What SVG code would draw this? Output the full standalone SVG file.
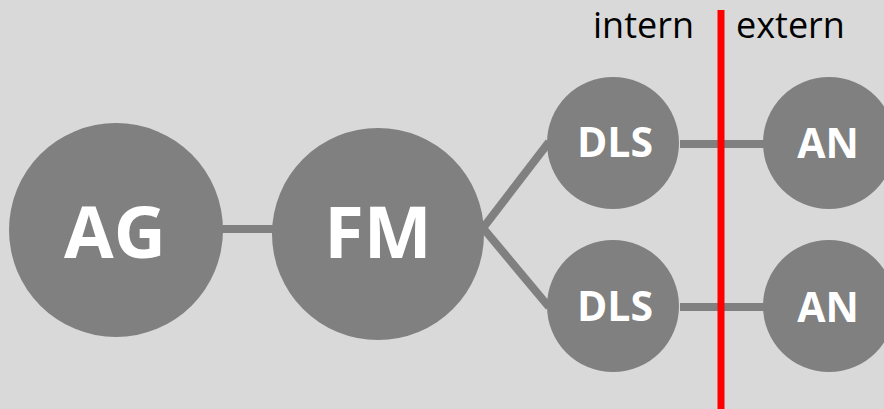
<svg xmlns="http://www.w3.org/2000/svg" width="884" height="409" viewBox="0 0 884 409">
  <style>
    .node { fill: #808080; }
    .big { font-family: "Open Sans", "Liberation Sans", sans-serif; font-weight: bold; font-size: 72px; fill: #ffffff; text-anchor: middle; }
    .small { font-family: "Open Sans", "Liberation Sans", sans-serif; font-weight: bold; font-size: 41px; fill: #ffffff; text-anchor: middle; }
    .zone { font-family: "Open Sans", "Liberation Sans", sans-serif; font-size: 36px; fill: #000000; }
    .link { stroke: #808080; stroke-width: 8; fill: none; }
  </style>
  <rect width="884" height="409" fill="#d9d9d9"/>

  <g id="connectors">
    <line class="link" x1="220" y1="229" x2="274" y2="229"/>
    <line class="link" x1="483" y1="228" x2="549" y2="142"/>
    <line class="link" x1="483" y1="228" x2="549" y2="307"/>
    <line class="link" x1="680" y1="144" x2="765" y2="144"/>
    <line class="link" x1="680" y1="307" x2="765" y2="307"/>
  </g>

  <g id="boundary">
    <line x1="721" y1="10" x2="721" y2="409" stroke="#ff0000" stroke-width="7"/>
    <text class="zone" x="593" y="38">intern</text>
    <text class="zone" x="736" y="38">extern</text>
  </g>

  <g id="node-ag">
    <circle class="node" cx="116" cy="230" r="107"/>
    <text class="big" x="115" y="258">AG</text>
  </g>
  <g id="node-fm">
    <circle class="node" cx="378" cy="234" r="106"/>
    <text class="big" x="378" y="258">FM</text>
  </g>
  <g id="node-dls-top">
    <circle class="node" cx="613" cy="143" r="66"/>
    <text class="small" x="615" y="157">DLS</text>
  </g>
  <g id="node-dls-bottom">
    <circle class="node" cx="613" cy="306" r="66"/>
    <text class="small" x="615" y="321">DLS</text>
  </g>
  <g id="node-an-top">
    <circle class="node" cx="829" cy="143" r="66"/>
    <text class="small" x="828" y="158">AN</text>
  </g>
  <g id="node-an-bottom">
    <circle class="node" cx="829" cy="306" r="66"/>
    <text class="small" x="828" y="322">AN</text>
  </g>
</svg>
